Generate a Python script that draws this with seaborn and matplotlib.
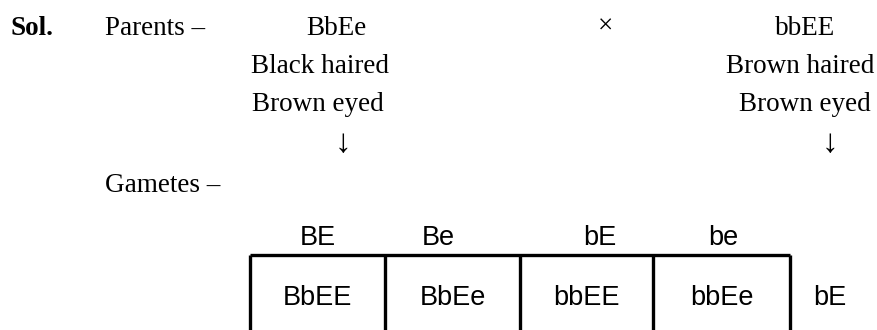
import matplotlib
matplotlib.use("Agg")
import matplotlib.pyplot as plt
import seaborn as sns

# ---- content ----
label_sol = "Sol."
label_parents = "Parents –"
label_gametes = "Gametes –"
cross_sign = "×"
arrow_sign = "↓"
parent1 = ["BbEe", "Black haired", "Brown eyed"]
parent2 = ["bbEE", "Brown haired", "Brown eyed"]
gametes_top = ["BE", "Be", "bE", "be"]
offspring = ["BbEE", "BbEe", "bbEE", "bbEe"]
gamete_side = "bE"

sns.set_theme(style="white")
plt.rcParams["font.family"] = ["Liberation Serif", "DejaVu Serif"]
plt.rcParams["text.color"] = "black"

W, H = 877, 330
fig = plt.figure(figsize=(W / 100, H / 100), dpi=100)
ax = fig.add_axes([0, 0, 1, 1])
ax.set_xlim(0, W)
ax.set_ylim(H, 0)
ax.axis("off")

fs = 19.5
serif = ["Liberation Serif", "DejaVu Serif"]
sans = ["Liberation Sans", "DejaVu Sans"]
kw = dict(color="black", va="baseline")

# header rows
row_base = [35, 73, 111]
ax.text(10, row_base[0], label_sol, fontsize=fs, fontweight="bold", family=serif, ha="left", **kw)
ax.text(105, row_base[0], label_parents, fontsize=fs, family=serif, ha="left", **kw)
ax.text(605, row_base[0] - 1, cross_sign, fontsize=fs, family=serif, ha="center", **kw)

p1_x = [336, 320, 318]
p2_x = [805, 800, 805]
for i, (t1, t2) in enumerate(zip(parent1, parent2)):
    ax.text(p1_x[i], row_base[i], t1, fontsize=fs, family=serif, ha="center", **kw)
    ax.text(p2_x[i], row_base[i], t2, fontsize=fs, family=serif, ha="center", **kw)

ax.text(343, 152, arrow_sign, fontsize=24, family=serif, ha="center", **kw)
ax.text(830, 152, arrow_sign, fontsize=24, family=serif, ha="center", **kw)

ax.text(105, 192, label_gametes, fontsize=fs, family=serif, ha="left", **kw)

# Punnett table
edges = [250, 385, 520, 653, 790]
top_y = 255
head_x = [318, 438, 600, 723]
for g, x in zip(gametes_top, head_x):
    ax.text(x, 245, g, fontsize=fs, family=sans, ha="center", **kw)

ax.hlines(top_y, edges[0], edges[-1], color="black", lw=2.4)
ax.vlines(edges, top_y, H + 5, color="black", lw=2.4)
for i, o in enumerate(offspring):
    cx = (edges[i] + edges[i + 1]) / 2
    ax.text(cx, 305, o, fontsize=fs, family=sans, ha="center", **kw)
ax.text(830, 305, gamete_side, fontsize=fs, family=sans, ha="center", **kw)

fig.savefig("out.png", dpi=100, facecolor="white")
